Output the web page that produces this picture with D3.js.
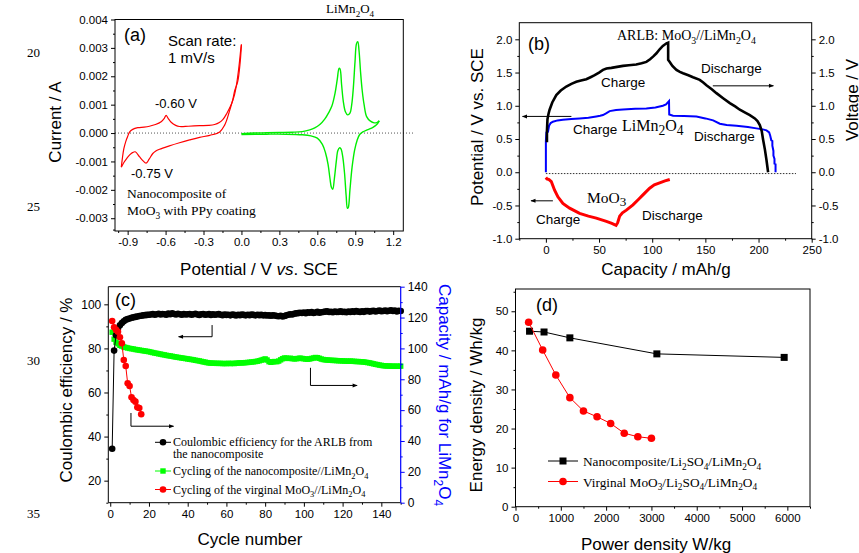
<!DOCTYPE html>
<html><head><meta charset="utf-8">
<script src="https://cdn.jsdelivr.net/npm/d3@7"></script>
<style>
body{margin:0;background:#fff;}
svg{display:block;}
text{font-family:"Liberation Sans",Arial,sans-serif;fill:#000;}
.serif{font-family:"Liberation Serif","Times New Roman",serif;}
</style></head>
<body><svg id="c" width="859" height="553"></svg>
<script>
// ---------------- DATA ----------------
// (a) cyclic voltammetry
const cvMoO3Anodic = [[-0.950,-0.00120],[-0.942,-0.00090],[-0.930,-0.00055],[-0.915,-0.00030],[-0.900,-0.00012],[-0.884,0.00004],[-0.860,0.00013],[-0.820,0.00019],[-0.770,0.00021],[-0.728,0.00024],[-0.680,0.00030],[-0.635,0.00040],[-0.610,0.00052],[-0.596,0.00062],[-0.580,0.00052],[-0.556,0.00038],[-0.520,0.00027],[-0.490,0.00023],[-0.420,0.00024],[-0.331,0.00026],[-0.260,0.00027],[-0.212,0.00030],[-0.175,0.00037],[-0.146,0.00048],[-0.115,0.00070],[-0.079,0.00102],[-0.055,0.00135],[-0.040,0.00168],[-0.025,0.00215],[-0.013,0.00262],[-0.004,0.00300],[0.000,0.00312]];
const cvMoO3Cathodic = [[0.000,0.00312],[-0.010,0.00250],[-0.030,0.00180],[-0.053,0.00150],[-0.070,0.00115],[-0.093,0.00080],[-0.115,0.00048],[-0.133,0.00028],[-0.172,0.00004],[-0.250,-0.00008],[-0.331,-0.00015],[-0.410,-0.00024],[-0.490,-0.00034],[-0.570,-0.00045],[-0.648,-0.00057],[-0.680,-0.00064],[-0.701,-0.00072],[-0.730,-0.00092],[-0.754,-0.00106],[-0.780,-0.00097],[-0.807,-0.00083],[-0.840,-0.00066],[-0.862,-0.00069],[-0.884,-0.00077],[-0.905,-0.00088],[-0.926,-0.00101],[-0.950,-0.00120]];
const cvLmoAnodic = [[0.000,-0.00002],[0.100,0.00000],[0.200,0.00001],[0.300,0.00002],[0.400,0.00003],[0.480,0.00005],[0.540,0.00011],[0.580,0.00018],[0.620,0.00030],[0.660,0.00050],[0.690,0.00072],[0.715,0.00095],[0.740,0.00140],[0.758,0.00190],[0.772,0.00228],[0.780,0.00225],[0.792,0.00170],[0.806,0.00110],[0.822,0.00075],[0.840,0.00064],[0.858,0.00070],[0.872,0.00100],[0.885,0.00160],[0.898,0.00250],[0.910,0.00315],[0.920,0.00322],[0.930,0.00290],[0.942,0.00215],[0.955,0.00150],[0.970,0.00100],[0.990,0.00058],[1.020,0.00042],[1.050,0.00036],[1.075,0.00038],[1.090,0.00043]];
const cvLmoCathodic = [[1.090,0.00043],[1.070,0.00030],[1.040,0.00020],[1.000,0.00012],[0.960,0.00004],[0.935,-0.00005],[0.915,-0.00025],[0.895,-0.00060],[0.875,-0.00120],[0.858,-0.00200],[0.845,-0.00262],[0.838,-0.00265],[0.828,-0.00220],[0.815,-0.00140],[0.800,-0.00080],[0.786,-0.00055],[0.775,-0.00052],[0.762,-0.00062],[0.750,-0.00100],[0.735,-0.00160],[0.722,-0.00198],[0.712,-0.00192],[0.700,-0.00160],[0.685,-0.00110],[0.665,-0.00070],[0.640,-0.00040],[0.600,-0.00018],[0.550,-0.00010],[0.480,-0.00006],[0.350,-0.00004],[0.200,-0.00004],[0.000,-0.00005]];
const aXTicks = [-0.9,-0.6,-0.3,0.0,0.3,0.6,0.9,1.2];
const aYTicks = [-0.003,-0.002,-0.001,0.000,0.001,0.002,0.003,0.004];

// (b) charge/discharge curves [capacity mAh/g, potential V]
const arlbCurve = [[1,0.45],[1,0.62],[1.5,0.80],[2.5,0.88],[3.5,0.94],[6,1.05],[9.8,1.16],[14,1.23],[19.2,1.29],[24,1.33],[28.6,1.36],[33,1.38],[38,1.40],[42,1.43],[45.9,1.46],[50,1.50],[53.7,1.54],[57,1.56],[61.6,1.57],[67,1.585],[72.5,1.60],[78,1.61],[85,1.62],[90,1.64],[94.5,1.66],[98,1.70],[100.8,1.74],[104,1.79],[107,1.85],[110,1.90],[113.4,1.94],[115,1.95],[115,1.69],[116.5,1.66],[119,1.60],[122.8,1.54],[126,1.51],[129,1.49],[134,1.46],[138.4,1.43],[144.7,1.39],[148,1.35],[151,1.31],[156,1.25],[160.4,1.19],[167,1.11],[173,1.04],[178,0.99],[182.4,0.94],[187,0.90],[191.8,0.86],[196.5,0.81],[199,0.77],[201.2,0.71],[203,0.62],[204.3,0.49],[206,0.34],[207.5,0.18],[209,0.0]];
const lmoCurve = [[0,0.0],[0,0.47],[0.5,0.6],[2,0.61],[3,0.70],[4.5,0.74],[6.6,0.76],[11,0.78],[16,0.79],[24,0.80],[31.7,0.81],[40,0.82],[47.4,0.84],[51,0.85],[53.7,0.86],[57,0.89],[60,0.92],[66,0.935],[72.5,0.945],[84,0.955],[94.5,0.96],[103,0.975],[110,1.0],[113,1.02],[115.8,1.07],[116,0.87],[119.6,0.85],[130,0.845],[141.6,0.84],[150,0.81],[157.3,0.78],[163.6,0.73],[170,0.71],[179.3,0.70],[190,0.68],[198,0.66],[204,0.645],[207.5,0.63],[210,0.60],[211,0.55],[212,0.48],[213,0.47],[213,0.40],[214,0.32],[214,0.25],[215,0.20],[215,0.13],[216,0.12],[216,0.0]];
const moo3Curve = [[0,-0.08],[1,-0.10],[3,-0.11],[5.1,-0.14],[6.5,-0.20],[8.2,-0.27],[11.3,-0.37],[16,-0.47],[22.3,-0.54],[31.7,-0.62],[40,-0.66],[47.4,-0.69],[56.9,-0.74],[62,-0.77],[66,-0.80],[67.5,-0.76],[69.4,-0.66],[72,-0.61],[75.7,-0.57],[81.9,-0.49],[87,-0.41],[91.3,-0.34],[97.6,-0.24],[102,-0.19],[107,-0.16],[112,-0.13],[116.5,-0.11]];
const bXTicks = [0,50,100,150,200,250];
const bYTicks = [-1.0,-0.5,0.0,0.5,1.0,1.5,2.0];

// (c) cycling
const cycleCE = [34.5,79,86,89,90.5,91.5,92.3,93,93.3,93.6,93.9,94.1,94.3,94.5,94.7,94.8,95,95.1,95.2,95.3,
95.4,95.6,95.3,95.5,95.7,95.4,95.6,95.5,95.3,95.8,95.5,95.9,95.6,95.4,95.7,95.5,95.3,95.6,95.4,95.5,
95.6,95.3,95.5,95.7,95.4,95.2,95.5,95.6,95.3,95.4,95.6,95.2,95.5,95.3,95.4,95.6,95.3,95.1,95.4,95.2,
95.3,95.0,95.4,95.2,94.9,95.3,95.1,95.4,95.2,95.0,95.3,95.1,95.4,95.2,95.0,95.3,95.1,95.2,95.0,95.1,
94.9,95.0,94.8,95.0,94.9,94.7,94.6,94.8,94.5,94.7,95.0,95.3,95.5,95.4,95.7,95.9,96.0,96.2,96.1,96.3,
96.0,96.4,96.2,96.5,96.1,96.3,96.6,96.2,96.4,96.5,96.7,96.8,96.5,96.6,96.4,96.7,96.5,96.6,96.8,96.5,
96.6,96.4,96.7,96.5,96.8,96.6,96.9,96.7,96.5,96.8,96.6,96.9,97.0,96.7,96.9,97.1,96.8,97.0,97.2,96.9,
97.0,97.2,96.9,97.1,97.3,97.0,97.2,96.8,97.1,97.0];
const capNano = [110.5,106,104,103,102,101.5,101,100.6,100.3,100,99.8,99.6,99.3,99.1,98.9,98.7,98.5,98.3,98.1,97.9,
97.6,97.3,97.0,96.8,96.5,96.3,96.0,95.8,95.5,95.3,95.1,94.9,94.6,94.4,94.2,94.0,93.8,93.6,93.4,93.2,
93.0,92.8,92.6,92.3,92.1,91.9,91.6,91.3,91.1,90.8,90.6,90.5,90.4,90.4,90.3,90.3,90.3,90.2,90.2,90.2,
90.3,90.2,90.3,90.2,90.4,90.5,90.6,90.6,90.7,90.8,90.9,91.0,91.2,91.3,91.5,91.7,92.0,92.4,92.8,93.2,
92.5,91.4,91.0,91.3,91.5,91.4,91.8,92.6,93.3,93.8,93.7,93.5,93.6,93.4,93.2,93.3,93.5,93.7,93.5,93.3,
93.1,93.0,93.2,93.5,93.8,94.1,94.0,93.6,93.1,92.8,92.6,92.5,92.4,92.3,92.2,92.2,92.1,92.0,92.0,91.9,
91.8,91.8,91.7,91.8,91.7,91.6,91.5,91.5,91.4,91.3,91.2,91.0,90.8,90.6,90.3,90.0,89.7,89.5,89.2,89.0,
88.8,88.7,88.6,88.6,88.5,88.5,88.4,88.5,88.4,88.5];
const capVirgin = [117.8,113.7,112,110.8,107.2,103.3,92.5,88.6,77.4,75.6,68.3,66.6,65.5,61.8,61.4,57.3];
const cXTicks = [0,20,40,60,80,100,120,140];
const cYTicksLeft = [20,40,60,80,100];
const cYTicksRight = [0,20,40,60,80,100,120,140];

// (d) Ragone plot
const ragoneNanoPower = [310,630,1200,3120,5930];
const ragoneNanoEnergy = [44.9,44.7,43.2,39.1,38.2];
const ragoneVirginPower = [290,600,890,1200,1500,1800,2100,2400,2700,3000];
const ragoneVirginEnergy = [47.2,40.1,33.7,27.9,24.5,23.0,21.3,18.8,17.9,17.5];
const dXTicks = [0,1000,2000,3000,4000,5000,6000];
const dYTicks = [0,10,20,30,40,50];

const lineNumbers = ["20","25","30","35"];

// ---------------- HELPERS ----------------
const svg = d3.select("#c");
const defs = svg.append("defs");
defs.append("marker").attr("id","arrS").attr("viewBox","0 0 10 10").attr("refX",9).attr("refY",5)
  .attr("markerWidth",8).attr("markerHeight",5).attr("orient","auto")
  .attr("markerUnits","userSpaceOnUse")
  .append("path").attr("d","M0,1 L10,5 L0,9 Z").attr("fill","#000");

const fix = s => s.replace(/\u2212/g,"-");
function rich(el, s, fs, subScale, shift){
  subScale = subScale||0.7; shift = shift===undefined?0.3:shift;
  const parts = s.split(/(_[0-9])/).filter(p=>p!=="");
  let shifted=false;
  parts.forEach(p=>{
    if(p[0]==="_"){ el.append("tspan").attr("font-size",fs*subScale).attr("dy",shifted?0:fs*shift).text(p.slice(1)); shifted=true; }
    else { el.append("tspan").attr("dy",shifted?-fs*shift:0).text(p); shifted=false; }
  });
  return el;
}
function txt(x,y,s,opt){
  opt=opt||{};
  const fs=opt.fs||14;
  const t=svg.append("text").attr("x",x).attr("y",y).attr("font-size",fs);
  if(opt.serif) t.attr("class","serif");
  if(opt.anchor) t.attr("text-anchor",opt.anchor);
  if(opt.fill) t.style("fill",opt.fill);
  if(opt.rot!==undefined){ t.attr("x",null).attr("y",null).attr("transform",`translate(${x},${y}) rotate(${opt.rot})`).attr("text-anchor","middle"); }
  rich(t,s,fs,opt.subScale,opt.shift);
  return t;
}
function axis(gen, scale, major, minor, fmt, tx, ty, color, fs){
  color=color||"#000"; fs=fs||11.5;
  const g1=svg.append("g").attr("transform",`translate(${tx},${ty})`)
    .call(gen(scale).tickValues(major).tickFormat(d=>fix(fmt(d))).tickSize(4).tickSizeOuter(0).tickPadding(3));
  g1.select(".domain").remove();
  g1.selectAll("line").attr("stroke",color);
  g1.selectAll("text").attr("font-size",fs).attr("font-family","Liberation Sans, Arial, sans-serif").style("fill","#000");
  const g2=svg.append("g").attr("transform",`translate(${tx},${ty})`)
    .call(gen(scale).tickValues(minor).tickFormat("").tickSize(2).tickSizeOuter(0));
  g2.select(".domain").remove();
  g2.selectAll("line").attr("stroke",color);
}
function frame(x,y){
  svg.append("rect").attr("x",x.range()[0]).attr("y",y.range()[1])
    .attr("width",x.range()[1]-x.range()[0]).attr("height",y.range()[0]-y.range()[1])
    .attr("fill","none").attr("stroke","#000").attr("stroke-width",1);
}
function mids(arr){const m=[];for(let i=0;i<arr.length-1;i++)m.push((arr[i]+arr[i+1])/2);return m;}
function arrow(pts, sx, sy){
  svg.append("path").attr("d",d3.line().x(d=>sx(d[0])).y(d=>sy(d[1]))(pts))
    .attr("fill","none").attr("stroke","#000").attr("stroke-width",1).attr("marker-end","url(#arrS)");
}

// ---------------- PANEL (a) ----------------
{
  const x=d3.scaleLinear().domain([-1.0,1.28]).range([115,403.3]);
  const y=d3.scaleLinear().domain([-0.00345,0.004]).range([231,19.5]);
  svg.append("line").attr("x1",115).attr("x2",413).attr("y1",y(0)).attr("y2",y(0))
    .attr("stroke","#555").attr("stroke-width",1).attr("stroke-dasharray","1,2");
  const ln=d3.line().x(d=>x(d[0])).y(d=>y(d[1])).curve(d3.curveCatmullRom.alpha(0.5));
  [cvMoO3Anodic,cvMoO3Cathodic].forEach(d=>svg.append("path").attr("d",ln(d)).attr("fill","none").attr("stroke","#ff0000").attr("stroke-width",1.2));
  [cvLmoAnodic,cvLmoCathodic].forEach(d=>svg.append("path").attr("d",ln(d)).attr("fill","none").attr("stroke","#00ee00").attr("stroke-width",1.4));
  frame(x,y);
  axis(d3.axisBottom,x,aXTicks,mids(aXTicks).concat([-0.975]),d3.format(".1f"),0,231);
  axis(d3.axisLeft,y,aYTicks,mids(aYTicks).concat([-0.0035+0.0001]),d3.format(".3f"),115,0);
  txt(61,122,"Current / A",{fs:17,rot:-90});
  const t=svg.append("text").attr("x",259).attr("y",275).attr("text-anchor","middle").attr("font-size",17);
  t.append("tspan").text("Potential / V ");
  t.append("tspan").attr("font-style","italic").text("vs");
  t.append("tspan").text(". SCE");
  txt(124,41,"(a)",{fs:18});
  txt(168,46,"Scan rate:",{fs:15});
  txt(168,63,"1 mV/s",{fs:15});
  txt(155,108,"-0.60 V",{fs:13});
  txt(131,178,"-0.75 V",{fs:13});
  txt(127,198,"Nanocomposite of",{fs:13.5,serif:true});
  txt(127,215,"MoO_3 with PPy coating",{fs:13.5,serif:true});
  txt(326,13,"LiMn_2O_4",{fs:13,serif:true});
}

// ---------------- PANEL (b) ----------------
{
  const x=d3.scaleLinear().domain([-25,250]).range([519.3,811.7]);
  const y=d3.scaleLinear().domain([-1,2.25]).range([238.7,22.7]);
  svg.append("line").attr("x1",x(0)).attr("x2",796).attr("y1",y(-0.02)).attr("y2",y(-0.02))
    .attr("stroke","#333").attr("stroke-width",1).attr("stroke-dasharray","1.5,1.5");
  const ln=d3.line().x(d=>x(d[0])).y(d=>y(d[1]));
  svg.append("path").attr("d",ln(moo3Curve)).attr("fill","none").attr("stroke","#ff0000").attr("stroke-width",3);
  svg.append("path").attr("d",ln(lmoCurve)).attr("fill","none").attr("stroke","#0000ff").attr("stroke-width",2);
  svg.append("path").attr("d",ln(arlbCurve)).attr("fill","none").attr("stroke","#000").attr("stroke-width",2.6);
  frame(x,y);
  axis(d3.axisBottom,x,bXTicks,mids(bXTicks).concat([-25]),d3.format("d"),0,238.7);
  axis(d3.axisLeft,y,bYTicks,mids(bYTicks),d3.format(".1f"),519.3,0);
  axis(d3.axisRight,y,bYTicks,mids(bYTicks),d3.format(".1f"),811.7,0);
  txt(483,127,"Potential / V vs. SCE",{fs:17,rot:-90});
  txt(858,100,"Voltage / V",{fs:17,rot:-90});
  txt(666,275,"Capacity / mAh/g",{fs:17,anchor:"middle"});
  txt(528,50,"(b)",{fs:18});
  txt(617,40,"ARLB: MoO_3//LiMn_2O_4",{fs:14,serif:true});
  txt(601,87,"Charge",{fs:13.5});
  txt(701,73,"Discharge",{fs:13.5});
  txt(573,134,"Charge",{fs:13.5});
  txt(622,131,"LiMn_2O_4",{fs:16,serif:true,subScale:0.85,shift:0.25});
  txt(694,141,"Discharge",{fs:13.5});
  txt(587,203,"MoO_3",{fs:15.5,serif:true,subScale:0.85,shift:0.2});
  txt(536,224,"Charge",{fs:13.5});
  txt(642,220,"Discharge",{fs:13.5});
  arrow([[157,1.30],[214,1.30]],x,y);
  arrow([[24,0.84],[-22,0.84]],x,y);
  arrow([[6.6,-0.43],[-14,-0.43]],x,y);
}

// ---------------- PANEL (c) ----------------
{
  const x=d3.scaleLinear().domain([-1,150]).range([108.3,400.7]);
  const yL=d3.scaleLinear().domain([10,108]).range([502.7,286.7]);
  const yR=d3.scaleLinear().domain([0,140]).range([502.7,286.7]);
  const cyc=i=>i+1;
  const lnL=d3.line().x((d,i)=>x(cyc(i))).y(d=>yL(d));
  const lnR=d3.line().x((d,i)=>x(cyc(i))).y(d=>yR(d));
  svg.append("path").attr("d",lnR(capNano)).attr("fill","none").attr("stroke","#00ff00").attr("stroke-width",1);
  svg.append("g").selectAll("rect").data(capNano).join("rect")
    .attr("x",(d,i)=>x(cyc(i))-2.7).attr("y",d=>yR(d)-2.7).attr("width",5.4).attr("height",5.4).attr("fill","#00ff00");
  svg.append("path").attr("d",lnL(cycleCE)).attr("fill","none").attr("stroke","#000").attr("stroke-width",1);
  svg.append("g").selectAll("circle").data(cycleCE).join("circle")
    .attr("cx",(d,i)=>x(cyc(i))).attr("cy",d=>yL(d)).attr("r",3.3).attr("fill","#000");
  svg.append("path").attr("d",lnR(capVirgin)).attr("fill","none").attr("stroke","#ff0000").attr("stroke-width",1);
  svg.append("g").selectAll("circle").data(capVirgin).join("circle")
    .attr("cx",(d,i)=>x(cyc(i))).attr("cy",d=>yR(d)).attr("r",3.3).attr("fill","#ff0000");
  svg.append("path").attr("d",`M400.7,286.7 H108.3 V502.7 H400.7`).attr("fill","none").attr("stroke","#000");
  svg.append("line").attr("x1",400.7).attr("x2",400.7).attr("y1",286.7).attr("y2",502.7).attr("stroke","#0000ff").attr("stroke-width",1.2);
  axis(d3.axisBottom,x,cXTicks,mids(cXTicks).concat([150]),d3.format("d"),0,502.7);
  axis(d3.axisLeft,yL,cYTicksLeft,mids(cYTicksLeft).concat([10]),d3.format("d"),108.3,0,"#000",12);
  axis(d3.axisRight,yR,cYTicksRight,mids(cYTicksRight),d3.format("d"),400.7,0,"#0000ff",12);
  txt(72,390,"Coulombic efficiency / %",{fs:17,rot:-90});
  txt(439,395,"Capacity / mAh/g for LiMn_2O_4",{fs:17,rot:90,fill:"#0000ff"});
  txt(250,545,"Cycle number",{fs:17,anchor:"middle"});
  txt(115,306,"(c)",{fs:18});
  arrow([[52.6,90.6],[52.6,85.3],[35.3,85.3]],x,yL);
  arrow([[103.4,71.2],[103.4,63.2],[127.5,63.2]],x,yL);
  arrow([[10.7,50.7],[10.7,44.7],[32.7,44.7]],x,yL);
  const leg=[{c:"#000",m:"circle",y:442.3,t:"Coulombic efficiency for the ARLB from",t2:"the nanocomposite"},
             {c:"#00ff00",m:"rect",y:471,t:"Cycling of the nanocomposite//LiMn_2O_4"},
             {c:"#ff0000",m:"circle",y:489.5,t:"Cycling of the virginal MoO_3//LiMn_2O_4"}];
  leg.forEach(l=>{
    svg.append("line").attr("x1",155).attr("x2",171).attr("y1",l.y).attr("y2",l.y).attr("stroke",l.c);
    if(l.m==="circle") svg.append("circle").attr("cx",163).attr("cy",l.y).attr("r",3.3).attr("fill",l.c);
    else svg.append("rect").attr("x",160.3).attr("y",l.y-2.7).attr("width",5.4).attr("height",5.4).attr("fill",l.c);
    txt(173,l.y+4,l.t,{fs:12,serif:true});
    if(l.t2) txt(173,l.y+16,l.t2,{fs:12,serif:true});
  });
}

// ---------------- PANEL (d) ----------------
{
  const x=d3.scaleLinear().domain([0,6500]).range([515.5,810]);
  const y=d3.scaleLinear().domain([0,55.7]).range([506.7,289]);
  const ln=d3.line().x(d=>x(d[0])).y(d=>y(d[1]));
  const nano=ragoneNanoPower.map((p,i)=>[p,ragoneNanoEnergy[i]]);
  const virg=ragoneVirginPower.map((p,i)=>[p,ragoneVirginEnergy[i]]);
  svg.append("path").attr("d",ln(nano)).attr("fill","none").attr("stroke","#000").attr("stroke-width",1);
  svg.append("g").selectAll("rect").data(nano).join("rect")
    .attr("x",d=>x(d[0])-3.5).attr("y",d=>y(d[1])-3.5).attr("width",7).attr("height",7).attr("fill","#000");
  svg.append("path").attr("d",ln(virg)).attr("fill","none").attr("stroke","#ff0000").attr("stroke-width",1);
  svg.append("g").selectAll("circle").data(virg).join("circle")
    .attr("cx",d=>x(d[0])).attr("cy",d=>y(d[1])).attr("r",3.8).attr("fill","#ff0000");
  frame(x,y);
  axis(d3.axisBottom,x,dXTicks,mids(dXTicks).concat([6500]),d3.format("d"),0,506.7);
  axis(d3.axisLeft,y,dYTicks,mids(dYTicks).concat([55]),d3.format("d"),515.5,0);
  txt(482,405,"Energy density / Wh/kg",{fs:17,rot:-90});
  txt(656,550,"Power density W/kg",{fs:17,anchor:"middle"});
  txt(536,311,"(d)",{fs:18});
  const leg=[{c:"#000",m:"rect",y:461,t:"Nanocomposite/Li_2SO_4/LiMn_2O_4"},
             {c:"#ff0000",m:"circle",y:481.5,t:"Virginal MoO_3/Li_2SO_4/LiMn_2O_4"}];
  leg.forEach(l=>{
    svg.append("line").attr("x1",548).attr("x2",578).attr("y1",l.y).attr("y2",l.y).attr("stroke",l.c);
    if(l.m==="circle") svg.append("circle").attr("cx",563).attr("cy",l.y).attr("r",3.8).attr("fill",l.c);
    else svg.append("rect").attr("x",559.5).attr("y",l.y-3.5).attr("width",7).attr("height",7).attr("fill",l.c);
    txt(583,l.y+5,l.t,{fs:13.3,serif:true});
  });
}

// line numbers (margin)
const lnY=[57,211,365,518];
lineNumbers.forEach((s,i)=>txt(27,lnY[i],s,{fs:13,serif:true}));
</script></body></html>
